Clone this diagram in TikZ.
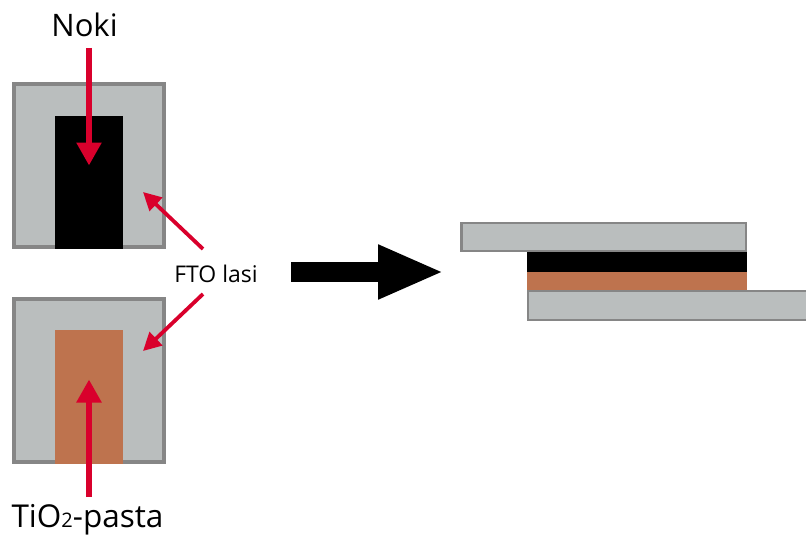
\documentclass[tikz,border=0pt]{standalone}
\usepackage{fontspec}
\setmainfont{Open Sans}
\usetikzlibrary{arrows.meta}
\definecolor{glass}{RGB}{186,190,190}
\definecolor{glassedge}{RGB}{134,134,134}
\definecolor{pasta}{RGB}{190,115,78}
\definecolor{arrowred}{RGB}{217,0,44}
\tikzset{
  x=1pt,y=-1pt,
  glassbox/.style={draw=glassedge,fill=glass,line width=3.5pt,rectangle,minimum width=0pt},
  sideglass/.style={draw=glassedge,fill=glass,line width=2.4pt},
  inknoki/.style={fill=black},
  inkpasta/.style={fill=pasta},
  bigred/.style={draw=arrowred,line width=5.5pt,-{Triangle[width=24pt,length=23pt]}},
  smallred/.style={draw=arrowred,line width=3.8pt,-{Triangle[width=18pt,length=18pt]}},
  bigblack/.style={draw=black,line width=20pt,-{Triangle[width=50pt,length=66pt]}},
  lbl/.style={inner sep=0pt,anchor=base,text=black}
}
\begin{document}
\begin{tikzpicture}
\useasboundingbox (0,0) rectangle (806,535);
% left plates
\draw[glassbox] (14,84) rectangle (164.2,247.2);
\fill[inknoki] (55.2,115.5) rectangle (122.5,249);
\draw[glassbox] (14,299) rectangle (164.2,462.2);
\fill[inkpasta] (55.2,330) rectangle (122.8,464);
% right stack
\fill[inknoki] (527,252) rectangle (747,272);
\fill[inkpasta] (527,272) rectangle (747,291);
\draw[sideglass] (461.5,223.2) rectangle (745.8,251.2);
\draw[sideglass] (528.2,291.2) rectangle (810,320);
% labels
\node[lbl,font=\fontsize{31}{36}\selectfont] (noki) at (84.5,37) {Noki};
\node[lbl,font=\fontsize{23}{27}\selectfont] (fto) at (216,282) {FTO lasi};
\node[lbl,font=\fontsize{31.5}{37}\selectfont] (tio) at (87.5,527.5) {TiO{\fontsize{20}{23}\selectfont 2}-pasta};
% connector ends
\coordinate (nokiS) at (89,48);
\coordinate (nokiT) at (89,165.5);
\coordinate (tioS) at (89,497);
\coordinate (tioT) at (89,379.5);
\coordinate (ftoA) at (203,249);
\coordinate (ftoAT) at (143,192);
\coordinate (ftoB) at (203,294);
\coordinate (ftoBT) at (143,351);
\coordinate (bigS) at (291,272);
\coordinate (bigT) at (444,272);
\draw[bigred] (nokiS) -- (nokiT);
\draw[bigred] (tioS) -- (tioT);
\draw[smallred] (ftoA) -- (ftoAT);
\draw[smallred] (ftoB) -- (ftoBT);
\draw[bigblack] (bigS) -- (bigT);
\end{tikzpicture}
\end{document}
